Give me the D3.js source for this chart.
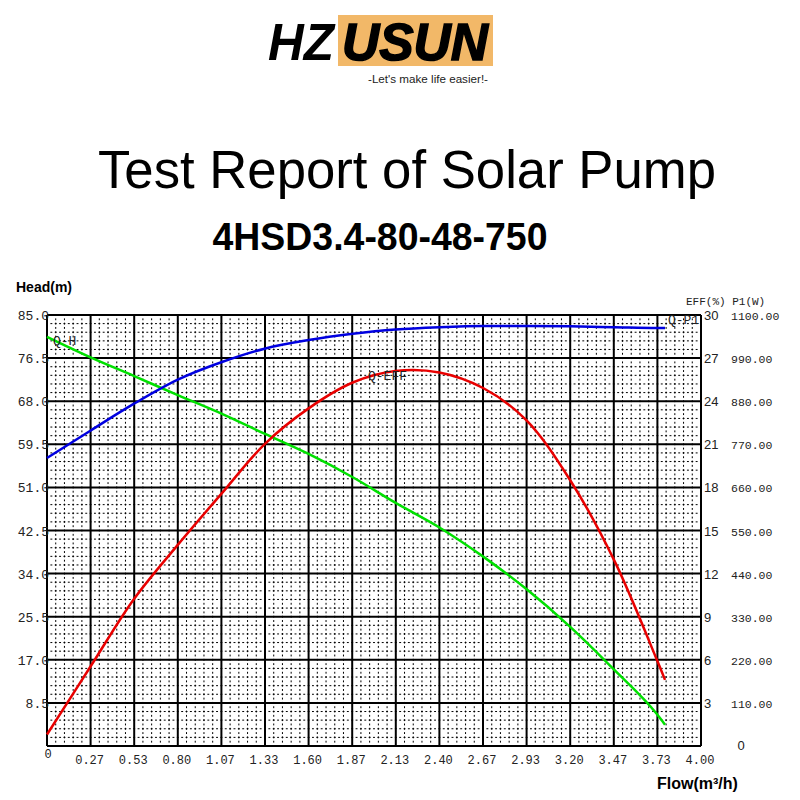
<!DOCTYPE html>
<html>
  <head>
    <script src="https://d3js.org/d3.v7.min.js" charset="utf-8"></script>
    <style>
      body { margin: 0; background: #fff; }
    </style>
  </head>
  <body>
    <svg id="chart" width="800" height="800"></svg>
    <script>
      // data
      var flow = [0, 0.27, 0.53, 0.80, 1.07, 1.33, 1.60, 1.87, 2.13, 2.40, 2.67, 2.93, 3.20, 3.47, 3.73, 3.78];
      var head = [80.7, 76.6, 73.0, 69.2, 65.5, 61.6, 57.6, 53.0, 48.0, 43.1, 37.3, 31.0, 23.5, 15.0, 6.3, 4.2];
      var eff = [0.8, 5.6, 10.2, 14.0, 17.6, 21.0, 23.5, 25.3, 26.1, 26.0, 24.9, 22.7, 18.5, 12.9, 6.0, 4.6];
      var power = [735, 806, 873, 935, 980, 1014, 1036, 1052, 1063, 1069, 1072, 1072, 1071, 1069, 1067, 1067];

      var xTickLabels = ["0", "0.27", "0.53", "0.80", "1.07", "1.33", "1.60", "1.87", "2.13", "2.40", "2.67", "2.93", "3.20", "3.47", "3.73", "4.00"];
      var headTickLabels = ["", "8.5", "17.0", "25.5", "34.0", "42.5", "51.0", "59.5", "68.0", "76.5", "85.0"];
      var effTickLabels = ["", "3", "6", "9", "12", "15", "18", "21", "24", "27", "30"];
      var powerTickLabels = ["", "110.00", "220.00", "330.00", "440.00", "550.00", "660.00", "770.00", "880.00", "990.00", "1100.00"];

      var svg = d3.select("#chart");
      var L = 47, R = 701, T = 315, B = 746;

      var x = d3.scaleLinear().domain([0, 4]).range([L, R]);
      var yH = d3.scaleLinear().domain([0, 85]).range([B, T]);
      var yE = d3.scaleLinear().domain([0, 30]).range([B, T]);
      var yP = d3.scaleLinear().domain([0, 1100]).range([B, T]);

      // ---- logo ----
      var logo = svg.append("g");
      logo.append("rect").attr("x", 338).attr("y", 15).attr("width", 155).attr("height", 51).attr("fill", "#f2b868");
      logo.append("text").attr("x", 268).attr("y", 60).text("HZ")
        .attr("font-family", "Liberation Sans, Arial").attr("font-weight", "bold").attr("font-style", "italic")
        .attr("font-size", 52).attr("textLength", 66).attr("lengthAdjust", "spacingAndGlyphs");
      logo.append("text").attr("x", 342).attr("y", 60).text("USUN")
        .attr("font-family", "Liberation Sans, Arial").attr("font-weight", "bold").attr("font-style", "italic")
        .attr("font-size", 52).attr("stroke", "#000").attr("stroke-width", 1.5)
        .attr("textLength", 146).attr("lengthAdjust", "spacingAndGlyphs");
      logo.append("text").attr("x", 428).attr("y", 83).attr("text-anchor", "middle").text("-Let's make life easier!-")
        .attr("font-family", "Liberation Sans, Arial").attr("font-size", 10.5).attr("fill", "#222")
        .attr("textLength", 120).attr("lengthAdjust", "spacingAndGlyphs");

      // ---- titles ----
      svg.append("text").attr("x", 407).attr("y", 188).attr("text-anchor", "middle")
        .text("Test Report of Solar Pump")
        .attr("font-family", "Liberation Sans, Arial").attr("font-size", 53)
        .attr("textLength", 618).attr("lengthAdjust", "spacingAndGlyphs");
      svg.append("text").attr("x", 380).attr("y", 250).attr("text-anchor", "middle")
        .text("4HSD3.4-80-48-750")
        .attr("font-family", "Liberation Sans, Arial").attr("font-size", 38).attr("font-weight", "bold")
        .attr("textLength", 335).attr("lengthAdjust", "spacingAndGlyphs");

      // ---- minor dashed grid ----
      var minorX = [], minorY = [];
      for (var i = 0; i < 15; i++) for (var k = 1; k < 5; k++) minorX.push((i + k / 5) * 4 / 15);
      for (var j = 0; j < 10; j++) for (var m = 1; m < 5; m++) minorY.push((j + m / 5) * 8.5);

      var sx = (x(4 / 15) - x(0)) / 5, sy = (yH(0) - yH(8.5)) / 5;
      svg.append("g").selectAll("line").data(minorX).join("line")
        .attr("x1", d => x(d)).attr("x2", d => x(d)).attr("y1", T).attr("y2", B)
        .attr("stroke", "#000").attr("stroke-width", 1)
        .attr("stroke-dasharray", (sy * 0.22) + "," + (sy * 0.28)).attr("stroke-dashoffset", sy * 0.11);
      svg.append("g").selectAll("line").data(minorY).join("line")
        .attr("x1", L).attr("x2", R).attr("y1", d => yH(d)).attr("y2", d => yH(d))
        .attr("stroke", "#000").attr("stroke-width", 1)
        .attr("stroke-dasharray", (sx * 0.22) + "," + (sx * 0.28)).attr("stroke-dashoffset", sx * 0.11);

      // ---- major grid ----
      var xTicks = d3.range(16).map(i => i * 4 / 15);
      var hTicks = d3.range(11).map(i => i * 8.5);
      svg.append("g").selectAll("line").data(xTicks).join("line")
        .attr("x1", d => x(d)).attr("x2", d => x(d)).attr("y1", T).attr("y2", B)
        .attr("stroke", "#000").attr("stroke-width", 2);
      svg.append("g").selectAll("line").data(hTicks).join("line")
        .attr("x1", L).attr("x2", R).attr("y1", d => yH(d)).attr("y2", d => yH(d))
        .attr("stroke", "#000").attr("stroke-width", 2);

      // ---- axis labels ----
      var mono = "Liberation Mono, DejaVu Sans Mono, monospace";
      svg.append("g").selectAll("text").data(hTicks).join("text")
        .attr("x", 49).attr("y", d => yH(d) + 5).attr("text-anchor", "end")
        .attr("font-family", mono).attr("font-size", 13).attr("fill", "#222")
        .text((d, i) => headTickLabels[i]);

      svg.append("g").selectAll("text").data(xTicks).join("text")
        .attr("x", (d, i) => i === 0 ? x(d) + 1 : x(d) - 1).attr("y", (d, i) => i === 0 ? 758 : 764)
        .attr("text-anchor", "middle")
        .attr("font-family", mono).attr("font-size", 12).attr("fill", "#222")
        .text((d, i) => xTickLabels[i]);

      var eTicks = d3.range(11).map(i => i * 3);
      svg.append("g").selectAll("text").data(eTicks).join("text")
        .attr("x", 704).attr("y", d => yE(d) + 5)
        .attr("font-family", "Liberation Sans, Arial").attr("font-size", 13).attr("fill", "#222")
        .text((d, i) => effTickLabels[i]);

      var pTicks = d3.range(11).map(i => i * 110);
      svg.append("g").selectAll("text").data(pTicks).join("text")
        .attr("x", 731).attr("y", d => yP(d) + 5)
        .attr("font-family", mono).attr("font-size", 11.5).attr("fill", "#222")
        .text((d, i) => powerTickLabels[i]);

      svg.append("text").attr("x", 741).attr("y", 750).attr("text-anchor", "middle")
        .attr("font-family", "Liberation Sans, Arial").attr("font-size", 13).attr("fill", "#222").text("0");

      svg.append("text").attr("x", 686).attr("y", 305)
        .attr("font-family", mono).attr("font-size", 11).attr("fill", "#222").text("EFF(%) P1(W)");

      svg.append("text").attr("x", 16).attr("y", 292)
        .attr("font-family", "Liberation Sans, Arial").attr("font-size", 14).attr("font-weight", "bold").text("Head(m)");
      svg.append("text").attr("x", 657).attr("y", 789)
        .attr("font-family", "Liberation Sans, Arial").attr("font-size", 16).attr("font-weight", "bold").text("Flow(m³/h)");

      // ---- curves ----
      var pts = flow.map((q, i) => ({q: q, h: head[i], e: eff[i], p: power[i]}));
      var lineH = d3.line().x(d => x(d.q)).y(d => yH(d.h)).curve(d3.curveMonotoneX);
      var lineE = d3.line().x(d => x(d.q)).y(d => yE(d.e)).curve(d3.curveCatmullRom);
      var lineP = d3.line().x(d => x(d.q)).y(d => yP(d.p)).curve(d3.curveMonotoneX);

      svg.append("path").attr("d", lineH(pts)).attr("fill", "none").attr("stroke", "#00e000").attr("stroke-width", 2.5);
      svg.append("path").attr("d", lineE(pts)).attr("fill", "none").attr("stroke", "#e80000").attr("stroke-width", 2.5);
      svg.append("path").attr("d", lineP(pts)).attr("fill", "none").attr("stroke", "#0000e0").attr("stroke-width", 2.5);

      var curveLbl = [["Q-H", 53, 345], ["Q-EFF", 368, 380], ["Q-P1", 668, 324]];
      svg.append("g").selectAll("text").data(curveLbl).join("text")
        .attr("x", d => d[1]).attr("y", d => d[2])
        .attr("font-family", mono).attr("font-size", 13).attr("fill", "#222")
        .text(d => d[0]);
    </script>
  </body>
</html>
